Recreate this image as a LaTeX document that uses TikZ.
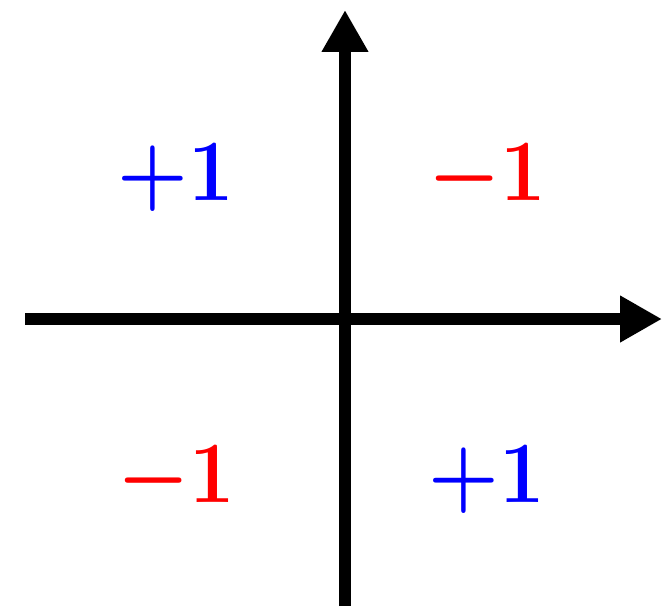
\documentclass[tikz,border=0pt]{standalone}
\usepackage{graphicx}
\usetikzlibrary{arrows.meta}
\definecolor{posblue}{RGB}{0,0,255}
\definecolor{negred}{RGB}{255,0,0}
\newcommand{\bigsign}[1]{\scalebox{1.85}[2.0]{\mbox{\boldmath$#1$}$\mathbf{1}$}}

\begin{document}
\begin{tikzpicture}[
    x=0.02cm, y=-0.02cm,
    axis/.style={line width=0.23cm, -{Triangle[length=0.84cm, width=0.88cm]}},
    sign/.style={inner sep=0pt, font=\Huge}
]
\useasboundingbox (0,0) rectangle (662,609);

% Axes
\coordinate (xl) at (25,319);
\coordinate (xr) at (662,319);
\coordinate (yb) at (345,606);
\coordinate (yt) at (345,10);
\draw[axis] (xl) -- (xr);
\draw[axis] (yb) -- (yt);

% Quadrant signs
\node[sign, text=posblue] (q2) at (176,178) {\bigsign{+}};
\node[sign, text=negred]  (q1) at (487,178) {\bigsign{-}};
\node[sign, text=negred]  (q3) at (176,480) {\bigsign{-}};
\node[sign, text=posblue] (q4) at (487,480) {\bigsign{+}};

\end{tikzpicture}
\end{document}
